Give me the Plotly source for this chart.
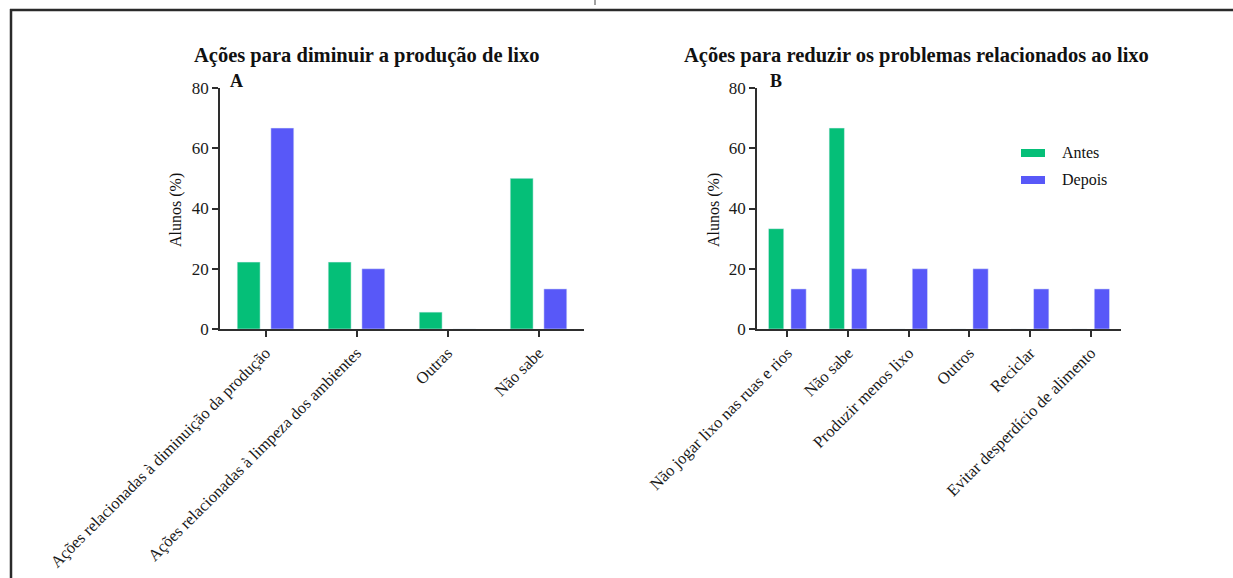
import plotly.graph_objects as go

# Panel A: actions to reduce waste production
cats_a = [
    "Ações relacionadas à diminuição da produção",
    "Ações relacionadas à limpeza dos ambientes",
    "Outras",
    "Não sabe",
]
antes_a = [22.2, 22.2, 5.6, 50.0]
depois_a = [66.7, 20.0, 0.0, 13.3]

# Panel B: actions to reduce waste-related problems
cats_b = [
    "Não jogar lixo nas ruas e rios",
    "Não sabe",
    "Produzir menos lixo",
    "Outros",
    "Reciclar",
    "Evitar desperdício de alimento",
]
antes_b = [33.3, 66.7, 0.0, 0.0, 0.0, 0.0]
depois_b = [13.3, 20.0, 20.0, 20.0, 13.3, 13.3]

y_ticks = [0, 20, 40, 60, 80]
series_names = ["Antes", "Depois"]

GREEN = "#05BF78"
BLUE = "#5858F8"
AXIS = "#2e2e2e"
FONT = "Liberation Serif"
W, H = 1233, 578


def px_x(x):
    return x / W


def px_y(y):
    return 1 - y / H


fig = go.Figure()
fig.add_trace(go.Bar(x=cats_a, y=antes_a, name=series_names[0], marker_color=GREEN,
                     xaxis="x", yaxis="y", showlegend=False))
fig.add_trace(go.Bar(x=cats_a, y=depois_a, name=series_names[1], marker_color=BLUE,
                     xaxis="x", yaxis="y", showlegend=False))
fig.add_trace(go.Bar(x=cats_b, y=antes_b, name=series_names[0], marker_color=GREEN,
                     xaxis="x2", yaxis="y2", showlegend=False))
fig.add_trace(go.Bar(x=cats_b, y=depois_b, name=series_names[1], marker_color=BLUE,
                     xaxis="x2", yaxis="y2", showlegend=False))

y_dom = [px_y(329), px_y(88)]
xaxis_common = dict(
    type="category", showline=True, linecolor=AXIS, linewidth=1.8,
    ticks="outside", ticklen=6, tickwidth=1.8, tickcolor=AXIS,
    tickangle=-45, showgrid=False, zeroline=False, automargin=False,
    tickfont=dict(family=FONT, size=16.5, color="#1a1a1a"),
)
yaxis_common = dict(
    range=[0, 80], tickvals=y_ticks, showline=True, linecolor=AXIS, linewidth=1.8,
    ticks="outside", ticklen=6, tickwidth=1.8, tickcolor=AXIS,
    showgrid=False, zeroline=False, domain=y_dom, automargin=False,
    tickfont=dict(family=FONT, size=17, color="#1a1a1a"),
)

fig.update_layout(
    width=W, height=H,
    margin=dict(l=0, r=0, t=0, b=0, pad=0, autoexpand=False),
    paper_bgcolor="white", plot_bgcolor="white",
    barmode="group", bargap=0.26, bargroupgap=0.32,
    xaxis=dict(domain=[px_x(220), px_x(584)], anchor="y", range=[-0.5, 3.5], **xaxis_common),
    yaxis=dict(anchor="x", **yaxis_common),
    xaxis2=dict(domain=[px_x(757), px_x(1121)], anchor="y2", range=[-0.5, 5.5], **xaxis_common),
    yaxis2=dict(anchor="x2", **yaxis_common),
    font=dict(family=FONT, color="#1a1a1a"),
)

annotations = [
    dict(text="<b>Ações para diminuir a produção de lixo</b>", x=px_x(367), y=px_y(55),
         font=dict(size=20.5)),
    dict(text="<b>Ações para reduzir os problemas relacionados ao lixo</b>", x=px_x(916),
         y=px_y(55), font=dict(size=20.5)),
    dict(text="<b>A</b>", x=px_x(237), y=px_y(81), font=dict(size=18)),
    dict(text="<b>B</b>", x=px_x(776), y=px_y(81), font=dict(size=18)),
    dict(text="Alunos (%)", x=px_x(176), y=px_y(210), textangle=-90, font=dict(size=16)),
    dict(text="Alunos (%)", x=px_x(714), y=px_y(210), textangle=-90, font=dict(size=16)),
    dict(text=series_names[0], x=px_x(1060), y=px_y(153), xanchor="left", font=dict(size=16)),
    dict(text=series_names[1], x=px_x(1060), y=px_y(180), xanchor="left", font=dict(size=16)),
]
for a in annotations:
    a.setdefault("xanchor", "center")
    a.update(xref="paper", yref="paper", yanchor="middle", showarrow=False)
    a["font"].update(family=FONT, color="#111")
fig.update_layout(annotations=annotations)

shapes = [
    # legend swatches
    dict(type="rect", x0=px_x(1021), x1=px_x(1045), y0=px_y(157), y1=px_y(149),
         fillcolor=GREEN, line_width=0),
    dict(type="rect", x0=px_x(1021), x1=px_x(1045), y0=px_y(184), y1=px_y(176),
         fillcolor=BLUE, line_width=0),
    # outer frame
    dict(type="line", x0=px_x(10), x1=1, y0=px_y(10), y1=px_y(10),
         line=dict(color="#2a2a2a", width=2.5)),
    dict(type="line", x0=px_x(11), x1=px_x(11), y0=px_y(9), y1=0,
         line=dict(color="#2a2a2a", width=2.5)),
    dict(type="line", x0=px_x(595), x1=px_x(595), y0=1, y1=px_y(5),
         line=dict(color="#444", width=1)),
]
for s in shapes:
    s.update(xref="paper", yref="paper")
fig.update_layout(shapes=shapes)

fig.write_html("out.html")
